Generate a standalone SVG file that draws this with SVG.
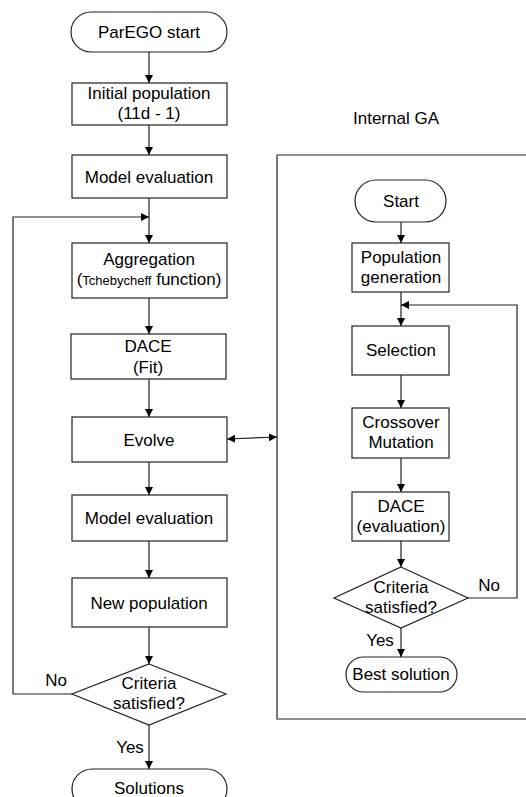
<svg xmlns="http://www.w3.org/2000/svg" width="526" height="797" viewBox="0 0 526 797">
<style>
.b{fill:#fff;stroke:#222;stroke-width:1.2}
.t{font-family:"Liberation Sans",Arial,sans-serif;font-size:17px;fill:#000;text-anchor:middle}
.s{font-size:13px}
.c{fill:none;stroke:#222;stroke-width:1.2}
.frame{fill:none;stroke:#222;stroke-width:1.2}
</style>
<defs>
<marker id="ah" viewBox="0 0 10 10" refX="10" refY="5" markerWidth="8" markerHeight="10" markerUnits="userSpaceOnUse" orient="auto-start-reverse">
<path d="M0,0 L10,5 L0,10 z" fill="#000"/>
</marker>
</defs>
<rect fill="#fff" width="526" height="797"/>

<g id="ga-frame">
<path class="frame" d="M530,155 H277 V719 H530"/>
<path d="M277,155 V719" stroke="#777" stroke-width="2" fill="none"/>
<text class="t" x="396" y="124">Internal GA</text>
</g>

<g id="connectors">
<path class="c" d="M149,52 V83" marker-end="url(#ah)"/>
<path class="c" d="M149,125 V155" marker-end="url(#ah)"/>
<path class="c" d="M149,198 V243" marker-end="url(#ah)"/>
<path class="c" d="M13,694 V217 H149" marker-end="url(#ah)"/>
<path class="c" d="M72,694 H13"/>
<path class="c" d="M149,298 V334" marker-end="url(#ah)"/>
<path class="c" d="M149,379 V417" marker-end="url(#ah)"/>
<path class="c" d="M149,462 V495" marker-end="url(#ah)"/>
<path class="c" d="M149,541 V578" marker-end="url(#ah)"/>
<path class="c" d="M149,627 V664" marker-end="url(#ah)"/>
<path class="c" d="M149,725 V769" marker-end="url(#ah)"/>
<path class="c" d="M227,439 L277,437" marker-start="url(#ah)" marker-end="url(#ah)"/>
<path class="c" d="M401,222 V243" marker-end="url(#ah)"/>
<path class="c" d="M401,292 V326" marker-end="url(#ah)"/>
<path class="c" d="M468,598 H517 V305 H401" marker-end="url(#ah)"/>
<path class="c" d="M401,375 V408" marker-end="url(#ah)"/>
<path class="c" d="M401,458 V492" marker-end="url(#ah)"/>
<path class="c" d="M401,541 V567" marker-end="url(#ah)"/>
<path class="c" d="M401,628 V657" marker-end="url(#ah)"/>
<text class="t" x="56" y="686">No</text>
<text class="t" x="130" y="753">Yes</text>
<text class="t" x="489" y="591">No</text>
<text class="t" x="380" y="646">Yes</text>
</g>

<g id="parego-start">
<rect class="b" x="71" y="12" width="156" height="40" rx="20"/>
<text class="t" x="149" y="38">ParEGO start</text>
</g>
<g id="initial-population">
<rect class="b" x="72" y="83" width="155" height="42"/>
<text class="t" x="149" y="99">Initial population</text>
<text class="t" x="149" y="119">(11d - 1)</text>
</g>
<g id="model-evaluation-1">
<rect class="b" x="72" y="155" width="155" height="43"/>
<text class="t" x="149" y="183">Model evaluation</text>
</g>
<g id="aggregation">
<rect class="b" x="72" y="243" width="155" height="55"/>
<text class="t" x="149" y="265">Aggregation</text>
<text class="t" x="149" y="285">(<tspan class="s">Tchebycheff</tspan> function)</text>
</g>
<g id="dace-fit">
<rect class="b" x="71" y="334" width="155" height="45"/>
<text class="t" x="148" y="352">DACE</text>
<text class="t" x="148" y="373">(Fit)</text>
</g>
<g id="evolve">
<rect class="b" x="72" y="417" width="155" height="45"/>
<text class="t" x="149" y="446">Evolve</text>
</g>
<g id="model-evaluation-2">
<rect class="b" x="72" y="495" width="155" height="46"/>
<text class="t" x="149" y="524">Model evaluation</text>
</g>
<g id="new-population">
<rect class="b" x="72" y="578" width="155" height="49"/>
<text class="t" x="149" y="609">New population</text>
</g>
<g id="criteria-main">
<polygon class="b" points="149,664 226,694 149,725 72,694"/>
<text class="t" x="149" y="689">Criteria</text>
<text class="t" x="149" y="709">satisfied?</text>
</g>
<g id="solutions">
<rect class="b" x="72" y="769" width="155" height="40" rx="20"/>
<text class="t" x="149" y="794">Solutions</text>
</g>

<g id="ga-start">
<rect class="b" x="355" y="180" width="91" height="42" rx="21"/>
<text class="t" x="401" y="207">Start</text>
</g>
<g id="population-generation">
<rect class="b" x="352" y="243" width="97" height="49"/>
<text class="t" x="401" y="263">Population</text>
<text class="t" x="401" y="283">generation</text>
</g>
<g id="selection">
<rect class="b" x="352" y="326" width="97" height="49"/>
<text class="t" x="401" y="356">Selection</text>
</g>
<g id="crossover-mutation">
<rect class="b" x="352" y="408" width="97" height="50"/>
<text class="t" x="401" y="428">Crossover</text>
<text class="t" x="401" y="448">Mutation</text>
</g>
<g id="dace-evaluation">
<rect class="b" x="352" y="492" width="97" height="49"/>
<text class="t" x="401" y="512">DACE</text>
<text class="t" x="401" y="532">(evaluation)</text>
</g>
<g id="criteria-ga">
<polygon class="b" points="401,567 468,598 401,628 334,598"/>
<text class="t" x="401" y="593">Criteria</text>
<text class="t" x="401" y="613">satisfied?</text>
</g>
<g id="best-solution">
<rect class="b" x="346" y="657" width="111" height="35" rx="17.5"/>
<text class="t" x="401" y="680">Best solution</text>
</g>
</svg>
